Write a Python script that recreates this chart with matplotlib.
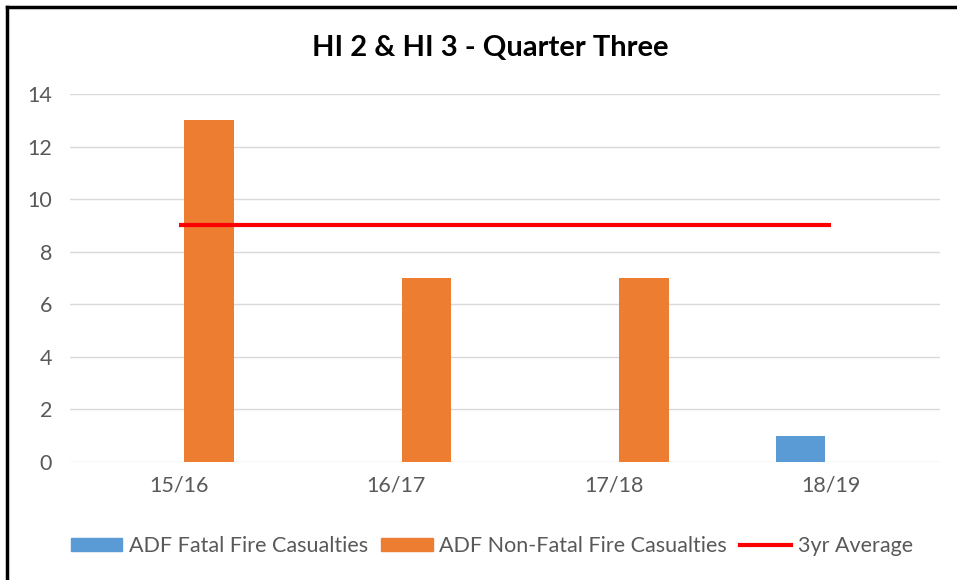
import numpy as np
import matplotlib.pyplot as plt
from matplotlib.lines import Line2D
from matplotlib.patches import Patch

plt.rcParams['font.family'] = ['Lato', 'DejaVu Sans']

years = ["15/16", "16/17", "17/18", "18/19"]
fatal = [0, 0, 0, 1]
non_fatal = [13, 7, 7, 0]
avg_3yr = [9, 9, 9, 9]

BLUE = "#5B9BD5"
ORANGE = "#ED7D31"
RED = "#FF0000"
GREY = "#595959"

fig = plt.figure(figsize=(9.57, 5.8), dpi=100)
ax = fig.add_axes([0.0731, 0.2034, 0.909, 0.6345])

x = np.arange(len(years))
w = 0.227
ax.bar(x - 0.14, fatal, w, color=BLUE, zorder=3)
ax.bar(x + 0.14, non_fatal, w, color=ORANGE, zorder=3)
ax.plot(x, avg_3yr, color=RED, lw=3, solid_capstyle='butt', zorder=4)

ax.set_xlim(-0.5, 3.5)
ax.set_ylim(0, 14)
ax.set_yticks(range(0, 15, 2))
ax.set_xticks(x)
ax.set_xticklabels(years)
ax.grid(axis='y', color='#D9D9D9', lw=1, zorder=0)
for s in ax.spines.values():
    s.set_visible(False)
ax.tick_params(length=0, labelsize=15.5, colors=GREY, pad=10)
ax.tick_params(axis='y', pad=13)

fig.text(0.512, 0.917, "HI 2 & HI 3 - Quarter Three", ha='center', va='center',
         fontsize=21, fontweight='bold', color='black')

handles = [Patch(color=BLUE), Patch(color=ORANGE),
           Line2D([0], [0], color=RED, lw=3)]
labels = ["ADF Fatal Fire Casualties", "ADF Non-Fatal Fire Casualties", "3yr Average"]
leg = fig.legend(handles, labels, loc='center', bbox_to_anchor=(0.514, 0.058),
                 ncol=3, frameon=False, fontsize=15.5, handlelength=2.4,
                 handleheight=0.55, handletextpad=0.3, columnspacing=0.6)
for t in leg.get_texts():
    t.set_color(GREY)

# outer border
fig.add_artist(Line2D([0.007, 0.007], [0, 0.988], color='black', lw=2.5,
                      transform=fig.transFigure))
fig.add_artist(Line2D([0.007, 1.0], [0.988, 0.988], color='black', lw=2.5,
                      transform=fig.transFigure))

fig.savefig("out.png", dpi=100)
